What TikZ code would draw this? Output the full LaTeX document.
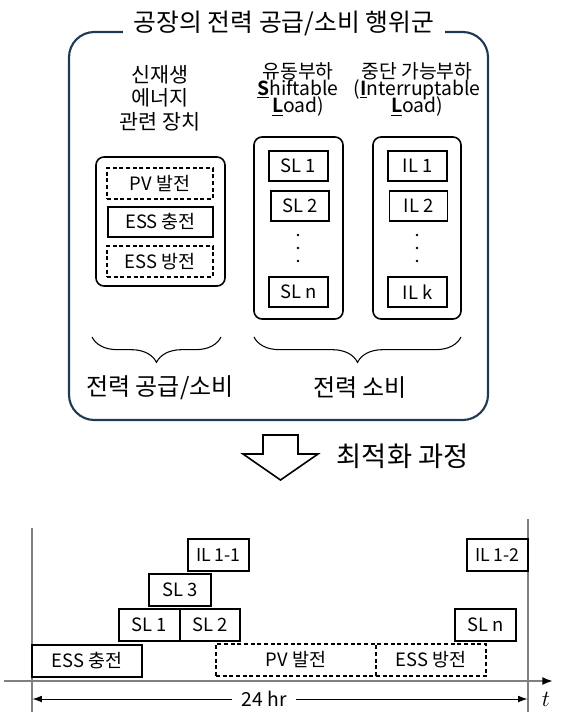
\documentclass[tikz,border=0pt]{standalone}
\usepackage{fontspec}
\setmainfont{Noto Sans CJK KR}[BoldFont={Noto Sans CJK KR Bold}]
\definecolor{navy}{HTML}{203A56}
\definecolor{axisgray}{HTML}{808080}
\usetikzlibrary{arrows.meta, decorations.pathreplacing}
\tikzset{
  cell/.style 2 args={draw, line width=1pt, minimum width=#1*0.75pt, minimum height=#2*0.75pt,
    inner sep=0pt, font=\fontsize{13.8}{13.8}\selectfont},
  dcell/.style 2 args={cell={#1}{#2}, dash pattern=on 3pt off 2pt},
  grp/.style={draw, line width=1.2pt, rounded corners=6pt},
  head/.style={align=center, inner sep=0pt, font={\fontsize{14.5}{13}\selectfont\lineskiplimit=-20pt\relax}},
  brc/.style={decorate, decoration={brace, amplitude=19pt}, line width=0.8pt},
}

\begin{document}
\begin{tikzpicture}[x=0.75pt, y=-0.75pt]
\useasboundingbox (0,0) rectangle (561,723);

% Outer frame with title
\draw[navy, line width=1.6pt, rounded corners=19pt] (69,32) rectangle (488,420);
\node[fill=white, inner xsep=8pt, font=\fontsize{18.6}{18.6}\selectfont] (title) at (284,23) {공장의 전력 공급/소비 행위군};

% Column headings
\node[head, font={\fontsize{15.5}{17.6}\selectfont}] (hdr-re) at (160,98) {신재생\\에너지\\관련 장치};
\node[head] (hdr-sl) at (298,89.5) {유동부하\\\underline{\textbf{S}}hiftable\\\underline{\textbf{L}}oad)};
\node[head] (hdr-il) at (417,89.5) {중단 가능부하\\(\underline{\textbf{I}}nterruptable\\\underline{\textbf{L}}oad)};

% Renewable / ESS group
\draw[grp] (96,157) rectangle (225,286);
\node[dcell={106}{31}] (pv-top) at (160,183.5) {PV 발전};
\node[cell={105}{30}] (ess-c-top) at (160.5,222) {ESS 충전};
\node[dcell={106}{31}] (ess-d-top) at (160,261.5) {ESS 방전};

% Shiftable loads
\draw[grp] (254,137) rectangle (343,319);
\node[cell={59}{30}] (sl1-top) at (298.5,166) {SL 1};
\node[cell={58}{30}] (sl2-top) at (300,206) {SL 2};
\node[cell={59}{30}] (sln-top) at (298.5,292) {SL n};
\foreach \y in {235,248,261} \fill (298,\y) circle (1.1pt);

% Interruptable loads
\draw[grp] (373,137) rectangle (461,319);
\node[cell={59}{30}] (il1-top) at (417.5,166) {IL 1};
\node[cell={58}{30}] (il2-top) at (418.5,206) {IL 2};
\node[cell={59}{30}] (ilk-top) at (417.5,292) {IL k};
\foreach \y in {235,248,261} \fill (417,\y) circle (1.1pt);

% Braces and group labels
\draw[brc] (221,337) -- (92,337);
\draw[brc] (461,337) -- (254,337);
\node[font=\fontsize{18}{18}\selectfont] (lbl-sup) at (160,388) {전력 공급/소비};
\node[font=\fontsize{18}{18}\selectfont] (lbl-con) at (360,388) {전력 소비};

% Optimisation arrow
\draw[line width=1.2pt, line join=miter] (263,435) -- (263,454) -- (243,454) -- (280.5,480) -- (318,454) -- (298,454) -- (298,435) -- cycle;
\node[font=\fontsize{20.5}{20.5}\selectfont, anchor=west] (opt) at (332,456) {최적화 과정};

% Time frame
\draw[axisgray, line width=0.8pt] (32,528) -- (32,712);
\draw[axisgray, line width=0.8pt] (528,519) -- (528,712);
\coordinate (ax0) at (4,681);
\coordinate (ax1) at (553,681);
\draw[axisgray, line width=1.5pt, -{Latex[black, length=8pt, width=6pt]}] (ax0) -- (ax1);

% Schedule blocks
\node[cell={61}{32}, font=\fontsize{13.3}{13.3}\selectfont] (il11) at (218.5,555) {IL 1-1};
\node[cell={61}{32}, font=\fontsize{13.3}{13.3}\selectfont] (il12) at (497.5,555) {IL 1-2};
\node[cell={62}{32}] (sl3) at (180,590) {SL 3};
\node[cell={61}{32}] (sl1) at (149.5,625) {SL 1};
\node[cell={60}{32}] (sl2) at (210,625) {SL 2};
\node[cell={61}{32}] (sln) at (485.5,625) {SL n};
\node[cell={110}{32}] (essc) at (87,661) {ESS 충전};
\node[dcell={160}{32}] (pv) at (296,660) {PV 발전};
\node[dcell={110}{32}] (essd) at (431,660) {ESS 방전};

% 24 hr span
\node[fill=white, inner xsep=7pt, font=\fontsize{14.5}{14.5}\selectfont] (span) at (264,699) {24 hr};
\coordinate (spanL) at (32.5,699);
\coordinate (spanR) at (527.5,699);
\draw[line width=0.7pt, -{Latex[length=7pt, width=5pt]}] (span) -- (spanL);
\draw[line width=0.7pt, -{Latex[length=7pt, width=5pt]}] (span) -- (spanR);
\node[font=\fontsize{18}{18}\selectfont] (tlab) at (546,699) {$t$};

\end{tikzpicture}
\end{document}
